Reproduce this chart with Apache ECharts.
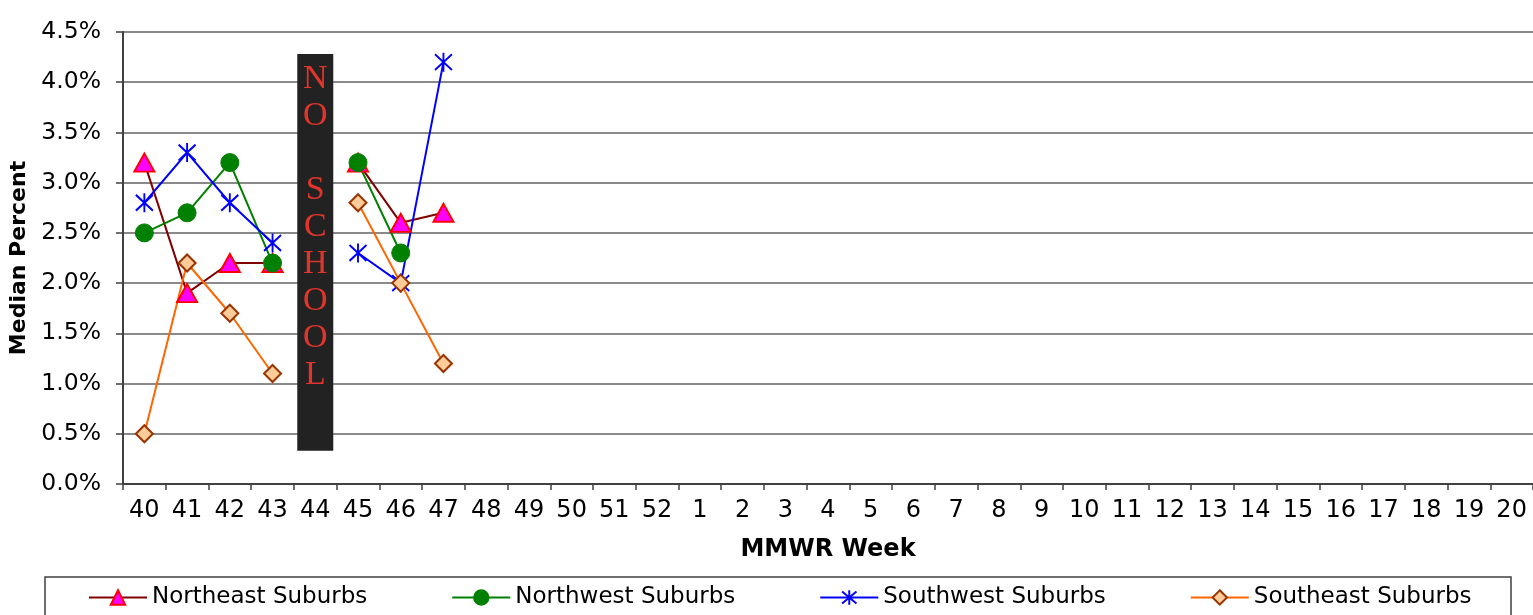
<!DOCTYPE html>
<html lang="en">

<head>
    <meta charset="UTF-8">
    <title>Median Percent by MMWR Week</title>
    <script src="https://cdn.jsdelivr.net/npm/echarts@6/dist/echarts.min.js"></script>
    <style>
        html, body { margin: 0; padding: 0; background: #fff; }
        #main { width: 1533px; height: 615px; }
    </style>
</head>

<body>
    <div id="main"></div>

    <script>
        // MMWR weeks on the x axis
        var weeks = ['40', '41', '42', '43', '44', '45', '46', '47', '48', '49', '50', '51', '52',
            '1', '2', '3', '4', '5', '6', '7', '8', '9', '10', '11', '12', '13', '14', '15', '16', '17', '18', '19', '20'];

        // median percent per region (null = no data / no school)
        var northeast = [3.2, 1.9, 2.2, 2.2, null, 3.2, 2.6, 2.7];
        var northwest = [2.5, 2.7, 3.2, 2.2, null, 3.2, 2.3, null];
        var southwest = [2.8, 3.3, 2.8, 2.4, null, 2.3, 2.0, 4.2];
        var southeast = [0.5, 2.2, 1.7, 1.1, null, 2.8, 2.0, 1.2];

        // "NO SCHOOL" block in week 44: bottom and top in percent
        var noSchoolWeek = '44';
        var noSchoolBottom = 0.33;
        var noSchoolTop = 4.28;

        var yTicks = { min: 0, max: 4.5, step: 0.5 };

        var font = 'DejaVu Sans';

        var blockBase = weeks.map(function (w) { return w === noSchoolWeek ? noSchoolBottom : null; });
        var blockBody = weeks.map(function (w) { return w === noSchoolWeek ? +(noSchoolTop - noSchoolBottom).toFixed(2) : null; });

        var myChart = echarts.init(document.getElementById('main'), null, { renderer: 'canvas' });

        var option = {
            animation: false,
            backgroundColor: '#fff',
            grid: { left: 121, right: 0, top: 32, bottom: 131 },
            legend: {
                data: ['Northeast Suburbs', 'Northwest Suburbs', 'Southwest Suburbs', 'Southeast Suburbs'],
                left: 88,
                top: 586,
                padding: 0,
                itemWidth: 58,
                itemHeight: 18,
                itemGap: 84,
                textStyle: { fontFamily: font, fontSize: 23, color: '#000' }
            },
            // legend frame, bottom runs past the picture
            graphic: [{
                type: 'rect',
                shape: { x: 45, y: 577, width: 1466, height: 60 },
                style: { fill: 'none', stroke: '#404040', lineWidth: 1.5 },
                silent: true
            }],
            xAxis: {
                type: 'category',
                data: weeks,
                name: 'MMWR Week',
                nameLocation: 'middle',
                nameGap: 54,
                nameTextStyle: { fontFamily: font, fontSize: 24, fontWeight: 'bold', color: '#000' },
                axisLine: { lineStyle: { color: '#404040', width: 2 } },
                axisTick: { show: true, interval: 0, length: 6, lineStyle: { color: '#404040', width: 1.5 } },
                axisLabel: { interval: 0, margin: 15, fontFamily: font, fontSize: 24, color: '#000' },
                splitLine: { show: false }
            },
            yAxis: {
                type: 'value',
                min: yTicks.min,
                max: yTicks.max,
                interval: yTicks.step,
                name: 'Median Percent',
                nameLocation: 'middle',
                nameGap: 93,
                nameTextStyle: { fontFamily: font, fontSize: 22, fontWeight: 'bold', color: '#000' },
                axisLine: { show: true, lineStyle: { color: '#404040', width: 2 } },
                axisTick: { show: true, length: 7, lineStyle: { color: '#404040', width: 1.5 } },
                axisLabel: {
                    margin: 22,
                    fontFamily: font,
                    fontSize: 23.5,
                    color: '#000',
                    formatter: function (v) { return v.toFixed(1) + '%'; }
                },
                splitLine: { show: true, lineStyle: { color: '#8a8a8a', width: 2 } }
            },
            series: [
                {
                    name: 'block-base',
                    type: 'bar',
                    stack: 'block',
                    barWidth: 36,
                    silent: true,
                    itemStyle: { color: 'transparent' },
                    data: blockBase
                },
                {
                    name: 'block',
                    type: 'bar',
                    stack: 'block',
                    barWidth: 36,
                    silent: true,
                    itemStyle: { color: '#222222' },
                    label: {
                        show: true,
                        position: 'insideTop',
                        distance: 6,
                        formatter: 'N\nO\n\nS\nC\nH\nO\nO\nL',
                        fontFamily: 'Liberation Serif',
                        fontSize: 34,
                        lineHeight: 37,
                        color: '#e0352c'
                    },
                    data: blockBody
                },
                {
                    name: 'Northeast Suburbs',
                    type: 'line',
                    data: northeast,
                    symbol: 'triangle',
                    symbolSize: [20, 18],
                    lineStyle: { color: '#800000', width: 2 },
                    itemStyle: { color: '#ff00ff', borderColor: '#ff0000', borderWidth: 2 }
                },
                {
                    name: 'Northwest Suburbs',
                    type: 'line',
                    data: northwest,
                    symbol: 'circle',
                    symbolSize: 18,
                    lineStyle: { color: '#008000', width: 2 },
                    itemStyle: { color: '#008000', borderColor: '#008000', borderWidth: 1 }
                },
                {
                    name: 'Southwest Suburbs',
                    type: 'line',
                    data: southwest,
                    symbol: 'path://M0,0L10,10M10,0L0,10M5,-1L5,11',
                    symbolSize: [17, 19],
                    lineStyle: { color: '#0000ff', width: 2 },
                    itemStyle: { color: '#0000ff', borderColor: '#0000ff', borderWidth: 2 }
                },
                {
                    name: 'Southeast Suburbs',
                    type: 'line',
                    data: southeast,
                    symbol: 'diamond',
                    symbolSize: [17, 17],
                    lineStyle: { color: '#ff6600', width: 2 },
                    itemStyle: { color: '#ffcc99', borderColor: '#993300', borderWidth: 2 }
                }
            ]
        };

        myChart.setOption(option);
        window.onresize = myChart.resize;
    </script>
</body>

</html>
